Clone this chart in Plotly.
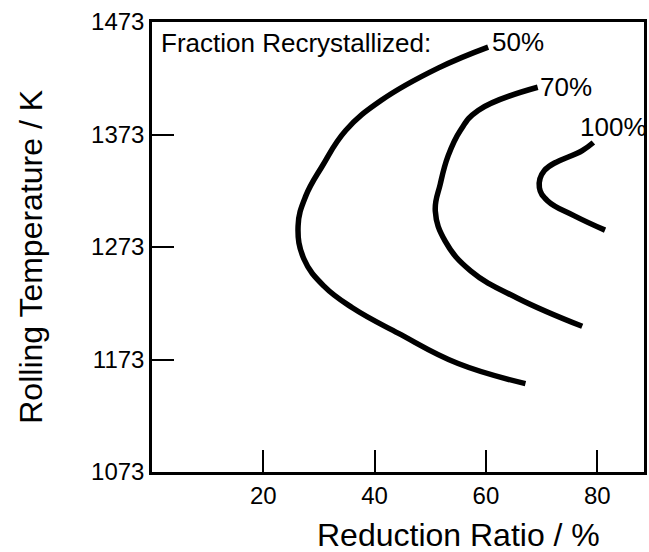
import plotly.graph_objects as go

# Data
x50 = [60.4, 51.4, 41.2, 34.8, 30.6, 27.6, 26.25, 27.3, 30.9, 36.0, 44.3, 55.0, 67.1]
t50 = [1450.7, 1432, 1403.4, 1376.6, 1345.0, 1318.0, 1291.8, 1262.3, 1238.2, 1219.0, 1196.2, 1169.4, 1151.6]

x70 = [69.3, 58.6, 55.4, 53.2, 51.8, 50.9, 52.7, 57.3, 65.7, 77.3]
t70 = [1415, 1394.4, 1376.6, 1354, 1329, 1305, 1278, 1251.6, 1227.5, 1202.5]

x100 = [79.3, 77.3, 70.5, 69.6, 71.1, 75.9, 81.4]
t100 = [1365.9, 1358.7, 1340.9, 1325.7, 1314, 1300.7, 1288]

curve_labels = ["50%", "70%", "100%"]
label_x = [60.7, 69.4, 76.6]
label_t = [1455, 1415, 1380]

x_ticks = [20, 40, 60, 80]
y_ticks = [1073, 1173, 1273, 1373, 1473]

FONT = "Liberation Sans, Arial, Helvetica, sans-serif"

fig = go.Figure()
for xs, ts in [(x50, t50), (x70, t70), (x100, t100)]:
    fig.add_trace(go.Scatter(
        x=xs, y=ts, mode="lines",
        line=dict(color="black", width=5.5, shape="spline", smoothing=1.2),
        showlegend=False, hoverinfo="skip"))

fig.add_annotation(x=1.3, y=1454, xref="x", yref="y", text="Fraction Recrystallized:",
                   showarrow=False, xanchor="left", yanchor="middle",
                   font=dict(family=FONT, size=26, color="black"))
for lab, lx, lt in zip(curve_labels, label_x, label_t):
    fig.add_annotation(x=lx, y=lt, xref="x", yref="y", text=lab, showarrow=False,
                       xanchor="left", yanchor="middle",
                       font=dict(family=FONT, size=26, color="black"))

# axis titles
fig.add_annotation(x=(460 - 152) / 495, y=(472 - 535) / 450, xref="paper", yref="paper",
                   text="Reduction Ratio / %", showarrow=False, xanchor="center",
                   yanchor="middle", font=dict(family=FONT, size=32, color="black"))
fig.add_annotation(x=(30 - 152) / 495, y=(472 - 257) / 450, xref="paper", yref="paper",
                   text="Rolling Temperature / K", showarrow=False, textangle=-90,
                   xanchor="center", yanchor="middle",
                   font=dict(family=FONT, size=32, color="black"))

fig.update_xaxes(range=[0, 88.4], tickvals=x_ticks, ticks="inside", ticklen=22, tickwidth=2,
                 tickcolor="black", showline=True, linecolor="black", linewidth=2.5,
                 mirror=True, showgrid=False, zeroline=False,
                 tickfont=dict(family=FONT, size=24, color="black"))
fig.update_yaxes(range=[1073, 1473], tickvals=y_ticks, ticks="inside", ticklen=22, tickwidth=2,
                 tickcolor="black", showline=True, linecolor="black", linewidth=2.5,
                 mirror=True, showgrid=False, zeroline=False,
                 tickfont=dict(family=FONT, size=24, color="black"))

fig.update_layout(width=649, height=552, margin=dict(l=152, r=2, t=22, b=80),
                  plot_bgcolor="white", paper_bgcolor="white")

fig.write_html("out.html")
